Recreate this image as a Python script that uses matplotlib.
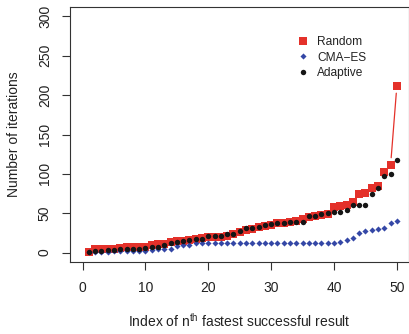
import matplotlib
matplotlib.use("Agg")
import matplotlib.pyplot as plt
import numpy as np

plt.rcParams['font.family'] = ['Liberation Sans', 'DejaVu Sans']
plt.rcParams['mathtext.default'] = 'regular'

# n-th fastest successful run (sorted iteration counts)
index = np.arange(1, 51)
random_iters = [1, 4, 4, 5, 5, 6, 7, 7, 7, 7,
                10, 11, 11, 14, 15, 15, 16, 17, 19, 20,
                20, 20, 21, 23, 26, 29, 30, 32, 34, 35,
                37, 38, 39, 40, 43, 45, 47, 48, 49, 58,
                59, 60, 64, 74, 76, 82, 84, 102, 111, 212]
cmaes_iters = [1, 1, 1, 1, 2, 2, 2, 2, 2, 2,
               3, 4, 5, 5, 8, 9, 9, 12, 12, 12,
               12, 12, 12, 12, 12, 12, 12, 12, 12, 12,
               12, 12, 12, 12, 12, 12, 12, 12, 12, 12,
               13, 16, 19, 25, 28, 29, 30, 31, 37, 40]
adaptive_iters = [1, 2, 2, 3, 3, 4, 5, 5, 5, 6,
                  7, 7, 10, 12, 14, 15, 16, 17, 17, 21,
                  21, 21, 23, 23, 27, 31, 31, 33, 35, 36,
                  37, 37, 39, 39, 39, 46, 47, 49, 50, 51,
                  51, 54, 60, 60, 60, 74, 82, 97, 100, 117]

series_names = ["Random", "CMA\u2212ES", "Adaptive"]
colors = ["#E4312A", "#3447A6", "#151515"]
markers = ["s", "D", "o"]
msizes = [5.3, 3.1, 3.9]

fig = plt.figure(figsize=(4.09, 3.34), dpi=100)
ax = fig.add_axes([0.1711, 0.2156, 0.83, 0.7634])
ax.set_xlim(-2, 52)
ax.set_ylim(-12, 312)

fs = 10
fs_leg = 8.6
gap_pt = 5.4


def connect_with_gaps(x, y, color):
    # lines between points, leaving a gap around each point
    fig.canvas.draw()
    trans = ax.transData
    pts = trans.transform(np.column_stack([x, y]))
    gap_px = gap_pt * fig.dpi / 72.0
    for k in range(len(x) - 1):
        d = np.hypot(*(pts[k + 1] - pts[k]))
        if d > 2 * gap_px + 1:
            ax.annotate("", xy=(x[k + 1], y[k + 1]), xytext=(x[k], y[k]),
                        arrowprops=dict(arrowstyle="-", color=color, lw=0.9,
                                        shrinkA=gap_pt, shrinkB=gap_pt),
                        zorder=1)


for vals, name, c, m, ms in zip([random_iters, cmaes_iters, adaptive_iters],
                                series_names, colors, markers, msizes):
    connect_with_gaps(index, vals, c)
    ax.plot(index, vals, linestyle="none", marker=m, markersize=ms,
            color=c, markeredgewidth=0, label=name, zorder=3)

ax.set_xticks([0, 10, 20, 30, 40, 50])
ax.set_yticks([0, 50, 100, 150, 200, 250, 300])
ax.tick_params(axis="both", direction="out", length=6, width=0.8,
               labelsize=fs, color="#333333", labelcolor="#222222")
ax.tick_params(axis="x", pad=8)
ax.tick_params(axis="y", pad=7)
for lbl in ax.get_yticklabels():
    lbl.set_rotation(90)
    lbl.set_va("center")
for sp in ax.spines.values():
    sp.set_linewidth(0.8)
    sp.set_color("#333333")

ax.set_xlabel("Index of n$^{th}$ fastest successful result", fontsize=fs,
              color="#222222", labelpad=12)
ax.set_ylabel("Number of iterations", fontsize=fs, color="#222222", labelpad=12)

leg = ax.legend(loc="upper left", bbox_to_anchor=(297 / 409, 1 - 36 / 334),
                bbox_transform=fig.transFigure, frameon=False, fontsize=fs_leg,
                handlelength=1.0, handletextpad=0.7, labelspacing=0.3,
                borderpad=0, borderaxespad=0, markerscale=1.0)
for t in leg.get_texts():
    t.set_color("#222222")

fig.savefig("out.png", dpi=100)
